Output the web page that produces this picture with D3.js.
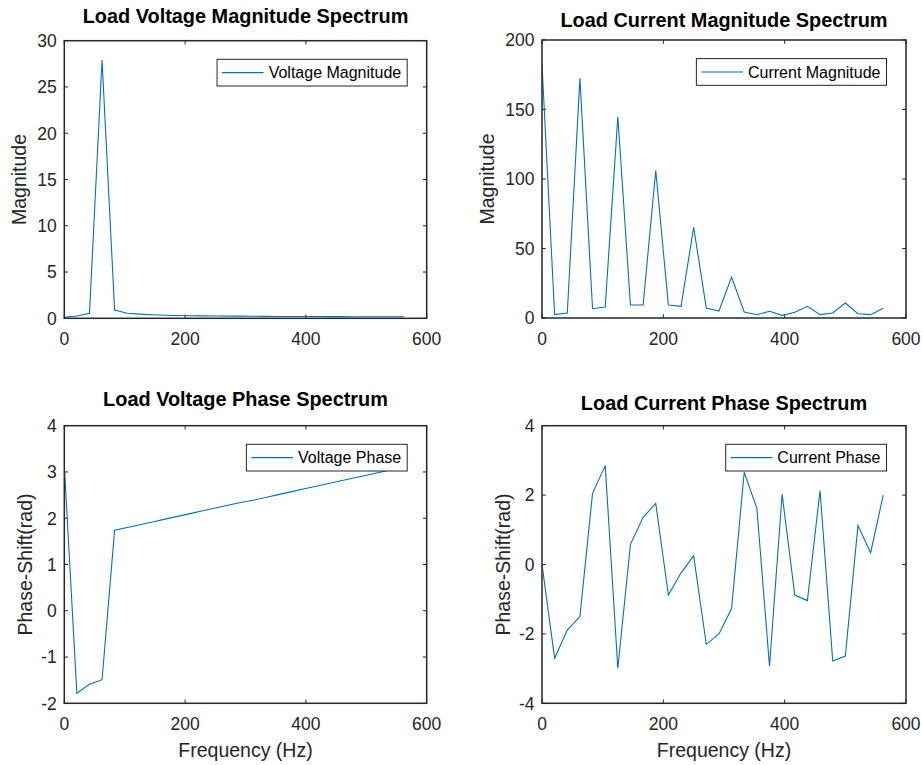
<!DOCTYPE html>
<html>
<head>
<meta charset="utf-8">
<script src="https://cdn.jsdelivr.net/npm/d3@7"></script>
<style>
  body { margin: 0; background: #fff; }
  svg { font-family: "Liberation Sans", Arial, Helvetica, sans-serif; }
</style>
</head>
<body>
<div id="chart"></div>
<script>
// frequency bins (Hz)
const freq = [0, 20.8, 41.7, 62.5, 83.3, 104.2, 125, 145.8, 166.7, 187.5, 208.3, 229.2, 250, 270.8,
  291.7, 312.5, 333.3, 354.2, 375, 395.8, 416.7, 437.5, 458.3, 479.2, 500, 520.8, 541.7, 562.5];

const voltageMag = [0.1, 0.25, 0.55, 27.9, 0.9, 0.55, 0.45, 0.38, 0.33, 0.3, 0.28, 0.26, 0.25, 0.24,
  0.23, 0.22, 0.21, 0.2, 0.2, 0.19, 0.19, 0.18, 0.18, 0.17, 0.17, 0.17, 0.16, 0.16];

const currentMag = [182.5, 2.4, 3.6, 172.4, 6.7, 7.9, 144.8, 9.4, 9.4, 106.1, 9.4, 8.4, 65.3, 7.2,
  5, 29.5, 4.3, 2.4, 4.8, 1.9, 4.1, 8.4, 2.4, 3.6, 10.8, 3.1, 2.4, 7];

const voltagePhase = [3.14, -1.78, -1.59, -1.49, 1.74, 1.8, 1.86, 1.92, 1.98, 2.04, 2.1, 2.16, 2.22, 2.28,
  2.34, 2.39, 2.45, 2.51, 2.57, 2.63, 2.69, 2.75, 2.81, 2.87, 2.93, 2.99, 3.05, 3.11];

const currentPhase = [0, -2.7, -1.89, -1.5, 2.05, 2.85, -2.99, 0.58, 1.36, 1.76, -0.88, -0.24, 0.25, -2.3,
  -2.0, -1.27, 2.66, 1.62, -2.93, 2.02, -0.88, -1.04, 2.13, -2.78, -2.64, 1.12, 0.34, 2.0];

const xTicks = [0, 200, 400, 600];
const vMagTicks = [0, 5, 10, 15, 20, 25, 30];
const iMagTicks = [0, 50, 100, 150, 200];
const vPhaseTicks = [-2, -1, 0, 1, 2, 3, 4];
const iPhaseTicks = [-4, -2, 0, 2, 4];

const W = 922, H = 765;
const lineColor = "#0072BD";
const axisColor = "#262626";

const panels = [
  { box: [64.3, 426.7, 40.7, 318.3], values: voltageMag, yDomain: [0, 30], yTicks: vMagTicks,
    title: "Load Voltage Magnitude Spectrum", titleY: 23, ylabel: "Magnitude", ylabelX: 25.7,
    legend: "Voltage Magnitude", xlabel: null },
  { box: [542, 906, 40, 318], values: currentMag, yDomain: [0, 200], yTicks: iMagTicks,
    title: "Load Current Magnitude Spectrum", titleY: 26.5, ylabel: "Magnitude", ylabelX: 493.5,
    legend: "Current Magnitude", xlabel: null },
  { box: [64.3, 426.7, 425.7, 703.3], values: voltagePhase, yDomain: [-2, 4], yTicks: vPhaseTicks,
    title: "Load Voltage Phase Spectrum", titleY: 406, ylabel: "Phase-Shift(rad)", ylabelX: 32,
    legend: "Voltage Phase", xlabel: "Frequency (Hz)" },
  { box: [542, 906, 425.7, 703.3], values: currentPhase, yDomain: [-4, 4], yTicks: iPhaseTicks,
    title: "Load Current Phase Spectrum", titleY: 409.5, ylabel: "Phase-Shift(rad)", ylabelX: 510,
    legend: "Current Phase", xlabel: "Frequency (Hz)" },
];

const svg = d3.select("#chart").append("svg")
  .attr("width", W).attr("height", H)
  .attr("viewBox", [0, 0, W, H]);

panels.forEach((p, i) => drawPanel(svg, p, i));

function drawPanel(svg, p, i) {
  const [left, right, top, bottom] = p.box;
  const x = d3.scaleLinear().domain([0, 600]).range([left, right]);
  const y = d3.scaleLinear().domain(p.yDomain).range([bottom, top]);
  const g = svg.append("g");
  const tickLen = 3.8;

  g.append("clipPath").attr("id", "clip" + i)
    .append("rect")
    .attr("x", left).attr("y", top)
    .attr("width", right - left).attr("height", bottom - top);

  // ticks inside on all four sides (box on)
  g.append("g").selectAll("line").data(xTicks).join("line")
    .attr("x1", (d) => x(d)).attr("x2", (d) => x(d))
    .attr("y1", bottom).attr("y2", bottom - tickLen)
    .attr("stroke", axisColor);
  g.append("g").selectAll("line").data(xTicks).join("line")
    .attr("x1", (d) => x(d)).attr("x2", (d) => x(d))
    .attr("y1", top).attr("y2", top + tickLen)
    .attr("stroke", axisColor);
  g.append("g").selectAll("line").data(p.yTicks).join("line")
    .attr("x1", left).attr("x2", left + tickLen)
    .attr("y1", (d) => y(d)).attr("y2", (d) => y(d))
    .attr("stroke", axisColor);
  g.append("g").selectAll("line").data(p.yTicks).join("line")
    .attr("x1", right).attr("x2", right - tickLen)
    .attr("y1", (d) => y(d)).attr("y2", (d) => y(d))
    .attr("stroke", axisColor);

  // tick labels
  g.append("g").selectAll("text").data(xTicks).join("text")
    .attr("x", (d) => x(d)).attr("y", bottom + 26.7)
    .attr("text-anchor", "middle")
    .attr("font-size", 17.5).attr("fill", axisColor)
    .text((d) => String(d));
  g.append("g").selectAll("text").data(p.yTicks).join("text")
    .attr("x", left - 7.5).attr("y", (d) => y(d))
    .attr("dy", "0.36em")
    .attr("text-anchor", "end")
    .attr("font-size", 17.5).attr("fill", axisColor)
    .text((d) => String(d));

  // data line
  const line = d3.line()
    .x((d, k) => x(freq[k]))
    .y((d) => y(d));
  g.append("path")
    .datum(p.values)
    .attr("clip-path", `url(#clip${i})`)
    .attr("fill", "none")
    .attr("stroke", lineColor)
    .attr("stroke-width", 1.1)
    .attr("d", line);

  // axes box
  g.append("rect")
    .attr("x", left).attr("y", top)
    .attr("width", right - left).attr("height", bottom - top)
    .attr("fill", "none")
    .attr("stroke", axisColor)
    .attr("stroke-width", 1.5);

  // title
  g.append("text")
    .attr("x", (left + right) / 2).attr("y", p.titleY)
    .attr("text-anchor", "middle")
    .attr("font-size", 19.9).attr("font-weight", "bold")
    .attr("fill", "#000")
    .text(p.title);

  // y label
  g.append("text")
    .attr("transform", `translate(${p.ylabelX},${(top + bottom) / 2}) rotate(-90)`)
    .attr("text-anchor", "middle")
    .attr("font-size", 19.5).attr("fill", axisColor)
    .text(p.ylabel);

  if (p.xlabel) {
    g.append("text")
      .attr("x", (left + right) / 2).attr("y", bottom + 53.5)
      .attr("text-anchor", "middle")
      .attr("font-size", 19.5).attr("fill", axisColor)
      .text(p.xlabel);
  }

  // legend, white box over the line like matlab
  const lg = g.append("g");
  const box = lg.append("rect");
  const label = lg.append("text")
    .attr("font-size", 16).attr("fill", "#000")
    .text(p.legend);
  const textW = label.node().getComputedTextLength();
  const lw = 5 + 41.6 + 5 + textW + 6, lh = 26.7;
  const lx = right - 19.5 - lw, ly = top + 18.6;
  box.attr("x", lx).attr("y", ly).attr("width", lw).attr("height", lh)
    .attr("fill", "#fff").attr("stroke", axisColor).attr("stroke-width", 1);
  lg.append("line")
    .attr("x1", lx + 5).attr("x2", lx + 46.6)
    .attr("y1", ly + lh / 2).attr("y2", ly + lh / 2)
    .attr("stroke", lineColor).attr("stroke-width", 1.1);
  label.attr("x", lx + 51.6).attr("y", ly + lh / 2 + 5.8);
}
</script>
</body>
</html>
